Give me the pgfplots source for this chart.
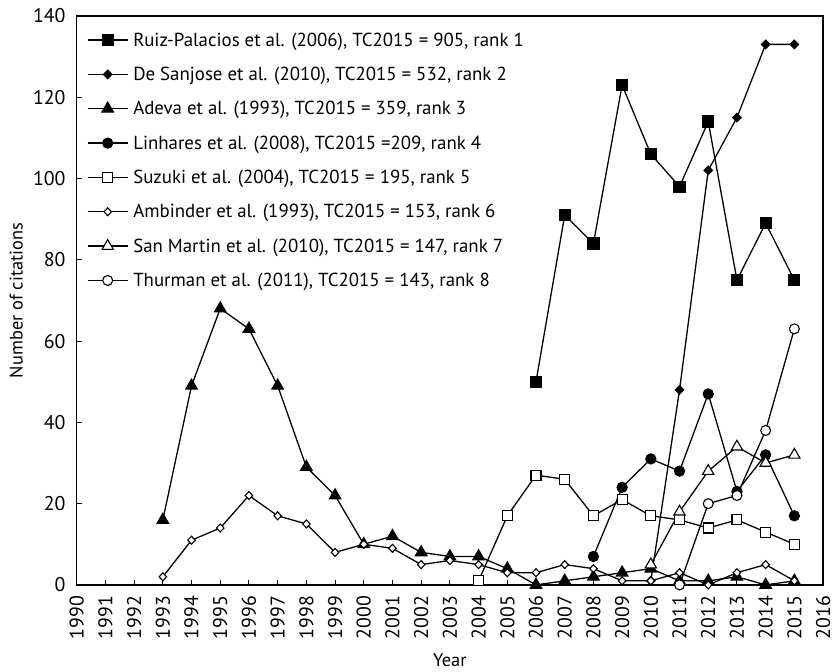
\documentclass[border=0pt]{standalone}
\usepackage{pgfplots}
\pgfplotsset{compat=1.18}
\usepackage{fontspec}
\setmainfont{PT Sans}
\begin{document}
\begin{tikzpicture}
\useasboundingbox (-77bp,-87bp) rectangle (765bp,587bp);
\begin{axis}[
  scale only axis, width=749bp, height=571bp,
  at={(0,0)}, anchor=south west,
  xmin=1990, xmax=2016, ymin=0, ymax=140,
  xtick={1990,1991,...,2016}, ytick={0,20,...,140},
  tick align=inside, xtick pos=left, ytick pos=left,
  major tick length=5bp,
  axis line style={line width=1.2pt},
  tick style={line width=1.1pt, black},
  /pgf/number format/assume math mode=true,
  /pgf/number format/1000 sep={},
  ticklabel style={font=\fontsize{20}{22}\selectfont},
  xticklabel style={rotate=90, anchor=east, inner sep=0pt},
  yticklabel style={anchor=east, inner sep=0pt},
  xticklabel shift=11bp, yticklabel shift=11bp,
  xlabel={Year}, ylabel={Number of citations},
  label style={font=\fontsize{18.5}{20}\selectfont},
  xlabel style={at={(axis description cs:0.5,-0.133)}, anchor=center},
  ylabel style={at={(axis description cs:-0.081,0.5)}, anchor=center, rotate=0},
  clip=false,
  legend cell align=left,
  legend style={draw=none, fill=none, at={(axis description cs:0.011,0.978)}, anchor=north west,
    font=\fontsize{19}{20}\selectfont, row sep=15.5bp, column sep=3bp, inner sep=2bp},
  legend image code/.code={\draw[mark repeat=2,mark phase=2] plot coordinates {(0bp,0bp) (20bp,0bp) (40bp,0bp)};},
  every axis plot/.append style={black, line width=1.3pt, mark options={solid}},
]
\addplot[mark=square*, mark size=5.5bp] coordinates {(2006,50)(2007,91)(2008,84)(2009,123)(2010,106)(2011,98)(2012,114)(2013,75)(2014,89)(2015,75)};
\addlegendentry{Ruiz-Palacios et al. (2006), TC2015 = 905, rank 1}
\addplot[mark=diamond*, mark size=5.5bp, mark options={yscale=0.75}] coordinates {(2010,1)(2011,48)(2012,102)(2013,115)(2014,133)(2015,133)};
\addlegendentry{De Sanjose et al. (2010), TC2015 = 532, rank 2}
\addplot[mark=triangle*, mark size=6.5bp] coordinates {(1993,16)(1994,49)(1995,68)(1996,63)(1997,49)(1998,29)(1999,22)(2000,10)(2001,12)(2002,8)(2003,7)(2004,7)(2005,4)(2006,0)(2007,1)(2008,2)(2009,3)(2010,4)(2011,1)(2012,1)(2013,2)(2014,0)(2015,1)};
\addlegendentry{Adeva et al. (1993), TC2015 = 359, rank 3}
\addplot[mark=*, mark size=5bp] coordinates {(2008,7)(2009,24)(2010,31)(2011,28)(2012,47)(2013,23)(2014,32)(2015,17)};
\addlegendentry{Linhares et al. (2008), TC2015 =209, rank 4}
\addplot[mark=square*, mark size=5bp, mark options={fill=white, line width=1.1pt}] coordinates {(2004,1)(2005,17)(2006,27)(2007,26)(2008,17)(2009,21)(2010,17)(2011,16)(2012,14)(2013,16)(2014,13)(2015,10)};
\addlegendentry{Suzuki et al. (2004), TC2015 = 195, rank 5}
\addplot[mark=diamond*, mark size=5bp, mark options={fill=white, line width=1.1pt, yscale=0.8}] coordinates {(1993,2)(1994,11)(1995,14)(1996,22)(1997,17)(1998,15)(1999,8)(2000,10)(2001,9)(2002,5)(2003,6)(2004,5)(2005,3)(2006,3)(2007,5)(2008,4)(2009,1)(2010,1)(2011,3)(2012,0)(2013,3)(2014,5)(2015,1)};
\addlegendentry{Ambinder et al. (1993), TC2015 = 153, rank 6}
\addplot[mark=triangle*, mark size=6.5bp, mark options={fill=white, line width=1.1pt}] coordinates {(2010,5)(2011,18)(2012,28)(2013,34)(2014,30)(2015,32)};
\addlegendentry{San Martin et al. (2010), TC2015 = 147, rank 7}
\addplot[mark=*, mark size=5bp, mark options={fill=white, line width=1.1pt}] coordinates {(2011,0)(2012,20)(2013,22)(2014,38)(2015,63)};
\addlegendentry{Thurman et al. (2011), TC2015 = 143, rank 8}
\end{axis}
\end{tikzpicture}
\end{document}
